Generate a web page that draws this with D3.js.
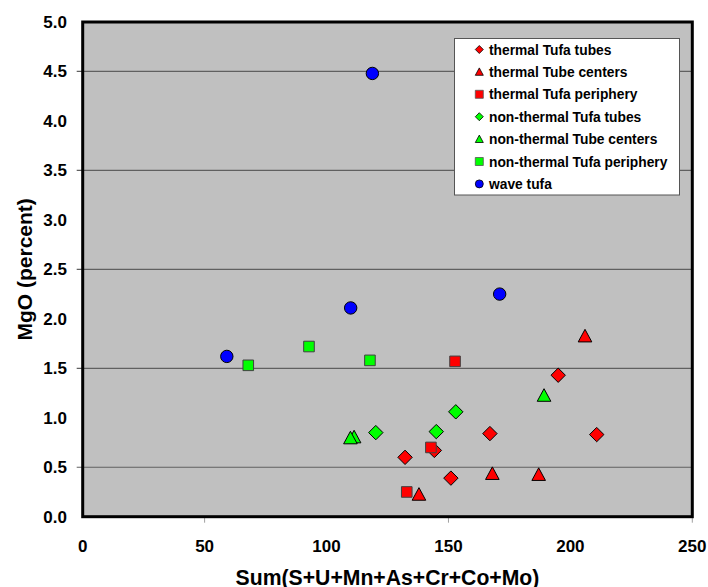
<!DOCTYPE html>
<html><head><meta charset="utf-8">
<script src="https://cdn.jsdelivr.net/npm/d3@7"></script>
<style>body{margin:0;background:#fff;}svg{display:block;font-family:"Liberation Sans",Arial,sans-serif;}</style>
</head><body>
<svg id="c" width="708" height="587"></svg>
<script>
// ---- data ----
const seriesNames = ["thermal Tufa tubes","thermal Tube centers","thermal Tufa periphery","non-thermal Tufa tubes","non-thermal Tube centers","non-thermal Tufa periphery","wave tufa"];
const seriesShapes = ["diamond","triangle","square","diamond","triangle","square","circle"];
const seriesColors = ["#FF0000","#FF0000","#FF0000","#00FF00","#00FF00","#00FF00","#0000FF"];
const thermalTubesX = [132.2,144.2,151.0,167.0,195.0,210.8];
const thermalTubesY = [0.60,0.67,0.39,0.84,1.43,0.83];
const thermalCentersX = [137.9,168.0,187.0,206.0];
const thermalCentersY = [0.23,0.44,0.43,1.83];
const thermalPeripheryX = [142.8,132.9,152.7];
const thermalPeripheryY = [0.70,0.25,1.57];
const nonThermalTubesX = [120.2,145.0,153.0];
const nonThermalTubesY = [0.85,0.86,1.06];
const nonThermalCentersX = [111.3,109.8,189.2];
const nonThermalCentersY = [0.81,0.80,1.23];
const nonThermalPeripheryX = [67.9,92.8,117.8];
const nonThermalPeripheryY = [1.53,1.72,1.58];
const waveX = [59.1,118.8,109.9,171.0];
const waveY = [1.62,4.48,2.11,2.25];
const xTicks = [0,50,100,150,200,250];
const yTicks = [0,0.5,1,1.5,2,2.5,3,3.5,4,4.5,5];
const gridValues = [0.5,1.5,2.5,3.5,4.5];
const xMarkTicks = [50,150,250];
const xTitle = "Sum(S+U+Mn+As+Cr+Co+Mo)";
const yTitle = "MgO (percent)";

const seriesX = [thermalTubesX,thermalCentersX,thermalPeripheryX,nonThermalTubesX,nonThermalCentersX,nonThermalPeripheryX,waveX];
const seriesY = [thermalTubesY,thermalCentersY,thermalPeripheryY,nonThermalTubesY,nonThermalCentersY,nonThermalPeripheryY,waveY];

// ---- layout ----
const L = 82.7, R = 692.3, T = 22, B = 516.7;
const x = d3.scaleLinear().domain([0,250]).range([L,R]);
const y = d3.scaleLinear().domain([0,5]).range([B,T]);
const svg = d3.select("#c");

svg.append("rect").attr("x",L).attr("y",T).attr("width",R-L).attr("height",B-T).attr("fill","#C0C0C0");

// gridlines
svg.append("g").selectAll("line").data(gridValues).join("line")
  .attr("x1",L-6).attr("x2",R).attr("y1",d=>y(d)).attr("y2",d=>y(d))
  .attr("stroke","#606060").attr("stroke-width",1.2);

// x tick marks
svg.append("g").selectAll("line").data(xMarkTicks).join("line")
  .attr("x1",d=>x(d)).attr("x2",d=>x(d)).attr("y1",B).attr("y2",B+6)
  .attr("stroke","#a0a0a0").attr("stroke-width",1);

// border
svg.append("rect").attr("x",L).attr("y",T).attr("width",R-L).attr("height",B-T)
  .attr("fill","none").attr("stroke","#000").attr("stroke-width",3);

// tick labels
svg.append("g").selectAll("text").data(yTicks).join("text")
  .attr("x",67).attr("y",d=>y(d)+6).attr("text-anchor","end")
  .attr("font-size",17).attr("font-weight","bold").attr("fill","#000")
  .text(d=>d3.format(".1f")(d));
svg.append("g").selectAll("text").data(xTicks).join("text")
  .attr("x",d=>x(d)).attr("y",551.5).attr("text-anchor","middle")
  .attr("font-size",17).attr("font-weight","bold").attr("fill","#000")
  .text(d=>d);

// titles
svg.append("text").attr("x",(L+R)/2).attr("y",584.5).attr("text-anchor","middle")
  .attr("font-size",21.2).attr("font-weight","bold").text(xTitle);
svg.append("text").attr("transform",`translate(31.5,${(T+B)/2}) rotate(-90)`).attr("text-anchor","middle")
  .attr("font-size",21).attr("font-weight","bold").text(yTitle);

// markers
function shapePath(shape, s){
  if(shape==="diamond") return `M0,${-s}L${s},0L0,${s}L${-s},0Z`;
  if(shape==="triangle") return `M0,${-s}L${s},${s*0.85}L${-s},${s*0.85}Z`;
  if(shape==="square") return `M${-s},${-s}H${s}V${s}H${-s}Z`;
  return d3.arc()({innerRadius:0,outerRadius:s,startAngle:0,endAngle:2*Math.PI});
}
const sizes = {diamond:7.2, triangle:6.8, square:5.3, circle:6.2};
const legendSizes = {diamond:4, triangle:4, square:4, circle:4};
const markerStroke = s => s==="square" ? "#404040" : "#000";

seriesNames.forEach((name,i)=>{
  const shape = seriesShapes[i];
  const pts = seriesX[i].map((v,j)=>({x:v,y:seriesY[i][j]}));
  svg.append("g").selectAll("path").data(pts).join("path")
    .attr("transform",d=>`translate(${x(d.x)},${y(d.y)+(shape==="triangle"?0.5:0)})`)
    .attr("d",shapePath(shape,sizes[shape]))
    .attr("fill",seriesColors[i]).attr("stroke",markerStroke(shape)).attr("stroke-width",1);
});

// legend
const lg = svg.append("g");
lg.append("rect").attr("x",454.5).attr("y",38.5).attr("width",225).attr("height",156.5)
  .attr("fill","#fff").attr("stroke","#555").attr("stroke-width",1);
seriesNames.forEach((name,i)=>{
  const cy = 49.5 + i*22.4;
  const shape = seriesShapes[i];
  lg.append("path").attr("transform",`translate(479.3,${cy})`)
    .attr("d",shapePath(shape,legendSizes[shape]))
    .attr("fill",seriesColors[i]).attr("stroke",shape==="square"?"#555":"#000").attr("stroke-width",0.8);
  lg.append("text").attr("x",489).attr("y",cy+5).attr("font-size",13.8).attr("font-weight","bold")
    .attr("fill","#000").text(name);
});
</script>
</body></html>
